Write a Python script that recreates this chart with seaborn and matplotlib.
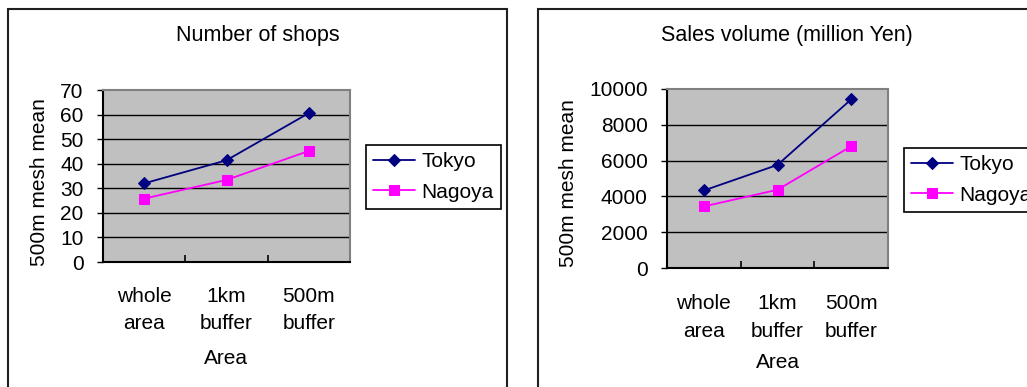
import matplotlib
matplotlib.use("Agg")
import matplotlib.pyplot as plt
import seaborn as sns
import pandas as pd
import numpy as np
from matplotlib.patches import Rectangle

categories = ["whole\narea", "1km\nbuffer", "500m\nbuffer"]
series_names = ["Tokyo", "Nagoya"]
shops_tokyo = [32, 41.4, 60.6]
shops_nagoya = [25.8, 33.4, 45.2]
sales_tokyo = [4330, 5760, 9420]
sales_nagoya = [3440, 4370, 6800]
shops_ticks = [0, 10, 20, 30, 40, 50, 60, 70]
sales_ticks = [0, 2000, 4000, 6000, 8000, 10000]

sns.set_theme(style="white")
plt.rcParams["font.family"] = ["Liberation Sans", "DejaVu Sans"]
plt.rcParams["text.color"] = "black"
plt.rcParams["axes.labelcolor"] = "black"
plt.rcParams["xtick.color"] = "black"
plt.rcParams["ytick.color"] = "black"
FS = 15

W, H = 1027, 387
fig = plt.figure(figsize=(W / 100, H / 100), dpi=100)

colors = {"Tokyo": "#000080", "Nagoya": "#FF00FF"}
markers = {"Tokyo": "D", "Nagoya": "s"}
sizes = {"Tokyo": 6.5, "Nagoya": 7.5}


def make_df(t, n):
    rows = []
    for i, c in enumerate(categories):
        rows.append({"pos": i, "city": "Tokyo", "value": t[i]})
        rows.append({"pos": i, "city": "Nagoya", "value": n[i]})
    return pd.DataFrame(rows)


def panel(rect, df, yticks, title, title_xy, ylab_xy, xlab_xy, legend_xy, xpad, ypad):
    ax = fig.add_axes(rect)
    ax.set_facecolor("#C0C0C0")
    for city in series_names:
        sub = df[df.city == city]
        sns.lineplot(data=sub, x="pos", y="value", ax=ax, color=colors[city],
                     marker=markers[city], markersize=sizes[city],
                     markeredgecolor=colors[city], linewidth=1.3, label=city,
                     legend=False, sort=False)
    ax.set_xlim(-0.5, len(categories) - 0.5)
    ax.set_ylim(yticks[0], yticks[-1])
    ax.set_yticks(yticks)
    ax.set_yticklabels([str(v) for v in yticks], fontsize=FS)
    ax.set_xticks(range(len(categories)))
    ax.set_xticklabels(categories, fontsize=FS, linespacing=1.55)
    ax.set_xticks(np.arange(0.5, len(categories), 1.0), minor=True)
    ax.tick_params(axis="x", which="major", length=0, pad=xpad)
    ax.tick_params(axis="x", which="minor", direction="in", length=5, width=1.2, color="black", bottom=True)
    ax.tick_params(axis="y", which="major", direction="out", length=4, width=1.0, color="black", left=True, pad=ypad)
    ax.grid(False)
    for v in yticks[1:-1]:
        ax.axhline(v, color="black", linewidth=1.0, zorder=0.5)
    ax.spines["left"].set_color("black")
    ax.spines["bottom"].set_color("black")
    ax.spines["left"].set_linewidth(1.5)
    ax.spines["bottom"].set_linewidth(1.5)
    ax.spines["top"].set_color("#808080")
    ax.spines["right"].set_color("#808080")
    ax.spines["top"].set_linewidth(1.5)
    ax.spines["right"].set_linewidth(1.5)
    ax.set_ylabel("500m mesh mean", fontsize=FS)
    ax.set_xlabel("Area", fontsize=FS)
    ax.yaxis.label.set_va("center")
    ax.xaxis.label.set_va("center")
    ax.yaxis.set_label_coords(*ylab_xy)
    ax.xaxis.set_label_coords(*xlab_xy)
    fig.text(title_xy[0] / W, 1 - title_xy[1] / H, title, fontsize=15.5,
             ha="center", va="center")
    h, l = ax.get_legend_handles_labels()
    leg = fig.legend(h, l, loc="upper left",
                     bbox_to_anchor=(legend_xy[0] / W, 1 - legend_xy[1] / H),
                     borderaxespad=0, fontsize=FS, frameon=True, fancybox=False,
                     edgecolor="black", framealpha=1, handlelength=2.0,
                     handletextpad=0.3, borderpad=0.35, labelspacing=0.55)
    leg.get_frame().set_linewidth(1.2)
    return ax


# panel borders
fig.patches.append(Rectangle((8 / W, -0.1), (507 - 8) / W, 1.1 - 9 / H,
                             transform=fig.transFigure, fill=False,
                             edgecolor="#202020", linewidth=1.5))
fig.patches.append(Rectangle((538 / W, -0.1), 0.6, 1.1 - 9 / H,
                             transform=fig.transFigure, fill=False,
                             edgecolor="#202020", linewidth=1.5))

df1 = make_df(shops_tokyo, shops_nagoya)
panel([103 / W, 1 - 262 / H, (350 - 103) / W, (262 - 90) / H], df1, shops_ticks,
      "Number of shops", (258, 36),
      ((40 - 103) / 247, (262 - 182) / 172), (0.497, (262 - 359) / 172),
      (366, 145), 18, 10)

df2 = make_df(sales_tokyo, sales_nagoya)
panel([667 / W, 1 - 268 / H, (888 - 667) / W, (268 - 89) / H], df2, sales_ticks,
      "Sales volume (million Yen)", (787, 35),
      ((569 - 667) / 221, (268 - 183) / 179), ((778 - 667) / 221, (268 - 362) / 179),
      (904, 148), 19, 10)

fig.savefig("out.png", dpi=100)
